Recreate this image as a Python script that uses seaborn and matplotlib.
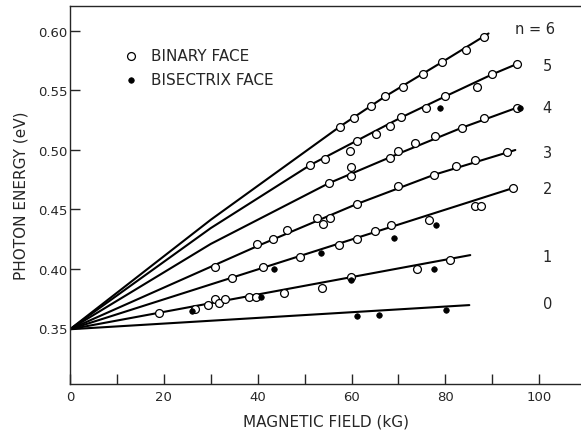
import numpy as np
import pandas as pd
import seaborn as sns
import matplotlib.pyplot as plt

# ---- data ----
# fitted curves (one per Landau level n)
curve_n = [6, 5, 4, 3, 2, 1, 0]
curve_B = [
    [0, 30, 57.6, 67.2, 79.3, 89.2],
    [0, 30, 51.2, 61.1, 70.6, 80.0, 90.0, 95.2],
    [0, 30, 55.1, 70.0, 83.5, 95.5],
    [0, 40, 61.1, 77.6, 94.9],
    [0, 94.4],
    [0, 85.3],
    [0, 85.1],
]
curve_E = [
    [0.349, 0.441, 0.5195, 0.5447, 0.5735, 0.5975],
    [0.349, 0.434, 0.487, 0.5074, 0.527, 0.5447, 0.5632, 0.5718],
    [0.349, 0.4207, 0.4716, 0.4965, 0.5183, 0.5355],
    [0.349, 0.419, 0.4542, 0.4788, 0.4996],
    [0.349, 0.4676],
    [0.349, 0.4113],
    [0.349, 0.3693],
]

# binary face (open circles)
binary_B = [19.0, 26.7, 29.5, 30.9, 31.8, 33.1, 38.2, 39.7, 45.7, 53.8, 59.8, 73.9, 80.9,
            34.6, 41.2, 49.1, 57.4, 61.1, 64.9, 68.4, 76.6, 86.4, 87.6, 94.4,
            30.9, 39.9, 43.2, 46.2, 52.6, 54.0, 55.4, 61.1, 70.0, 77.6, 82.2, 86.4, 93.1,
            55.1, 59.9, 59.9, 68.2, 70.0, 73.6, 77.7, 83.5, 88.3, 95.2,
            51.2, 54.3, 59.7, 61.1, 65.2, 68.2, 70.6, 75.8, 80.0, 86.7, 90.0, 95.2,
            57.6, 60.6, 64.1, 67.2, 70.9, 75.2, 79.3, 84.4, 88.3]
binary_E = [0.3626, 0.366, 0.3693, 0.3744, 0.371, 0.3744, 0.3758, 0.376, 0.3797, 0.3839, 0.3926, 0.3996, 0.4074,
            0.392, 0.4013, 0.410, 0.4197, 0.4248, 0.4313, 0.4366, 0.441, 0.4528, 0.4523, 0.4676,
            0.401, 0.4206, 0.4248, 0.4324, 0.4424, 0.4374, 0.4424, 0.4542, 0.4696, 0.4788, 0.4864, 0.4909, 0.4982,
            0.4716, 0.478, 0.4856, 0.4926, 0.4985, 0.5052, 0.5111, 0.5183, 0.5262, 0.5349,
            0.487, 0.492, 0.499, 0.5074, 0.5133, 0.5195, 0.5273, 0.5351, 0.5447, 0.5525, 0.5632, 0.5718,
            0.5192, 0.5267, 0.5363, 0.5447, 0.5525, 0.5632, 0.5735, 0.5839, 0.5945]

# bisectrix face (filled dots)
bisect_B = [61.1, 65.9, 80.2, 26.1, 40.7, 59.8, 77.6, 43.5, 53.5, 69.1, 78.0, 95.8, 78.8]
bisect_E = [0.3598, 0.3612, 0.3654, 0.364, 0.3758, 0.3906, 0.3996, 0.3996, 0.4128, 0.4256, 0.4366, 0.5349, 0.5345]

level_text = ["n = 6", "5", "4", "3", "2", "1", "0"]
level_B = [99.1, 101.7, 101.7, 101.7, 101.7, 101.7, 101.7]
level_E = [0.6013, 0.5704, 0.5355, 0.4979, 0.4676, 0.4105, 0.371]

y_ticks = [0.35, 0.40, 0.45, 0.50, 0.55, 0.60]
y_labels = ["0.35", "0.40", "0.45", "0.50", "0.55", "0.60"]
x_ticks = [0, 20, 40, 60, 80, 100]
x_minor = [10, 30, 50, 70, 90]

# ---- tables for seaborn ----
rows = []
for n, bs, es in zip(curve_n, curve_B, curve_E):
    for b, e in zip(bs, es):
        rows.append((n, b, e))
lines_df = pd.DataFrame(rows, columns=["n", "B", "E"])
binary_df = pd.DataFrame({"B": binary_B, "E": binary_E})
bisect_df = pd.DataFrame({"B": bisect_B, "E": bisect_E})

sns.set_style("ticks")
plt.rcParams['font.family'] = ['DejaVu Sans']

fig = plt.figure(figsize=(5.81, 4.31), dpi=100)
ax = fig.add_axes([0.1205, 0.1067, 0.8795, 0.8771])

sns.lineplot(data=lines_df, x="B", y="E", units="n", estimator=None, sort=False,
             color="black", linewidth=1.5, ax=ax, legend=False, zorder=2)
sns.scatterplot(data=binary_df, x="B", y="E", marker="o", s=32, facecolor="white",
                edgecolor="black", linewidth=0.9, ax=ax, zorder=3, label="BINARY FACE")
sns.scatterplot(data=bisect_df, x="B", y="E", marker="o", s=16, color="black",
                edgecolor="black", linewidth=0.5, ax=ax, zorder=4, label="BISECTRIX FACE")

for t, b, e in zip(level_text, level_B, level_E):
    ax.text(b, e, t, ha="center", va="center", fontsize=10.5)

ax.set_xlim(0, 108.9)
ax.set_ylim(0.303, 0.6206)
ax.set_xticks(x_ticks)
ax.set_xticks(x_minor, minor=True)
ax.set_yticks(y_ticks)
ax.set_yticklabels(y_labels)
ax.tick_params(which="both", direction="in", length=7, width=1, labelsize=9.5)
ax.tick_params(axis="x", pad=4)
ax.tick_params(axis="y", pad=2)

ax.set_xlabel("MAGNETIC FIELD (kG)", fontsize=11, labelpad=8)
ax.set_ylabel("PHOTON ENERGY (eV)", fontsize=11, labelpad=7)

ax.spines["right"].set_visible(False)
for s in ["top", "left", "bottom"]:
    ax.spines[s].set_linewidth(1.0)

ax.legend(frameon=False, loc="upper left", bbox_to_anchor=(0.1045, 0.889),
          borderaxespad=0, borderpad=0, handlelength=1.0, handletextpad=0.8,
          labelspacing=0.6, fontsize=11)

fig.savefig("out.png", dpi=100)
